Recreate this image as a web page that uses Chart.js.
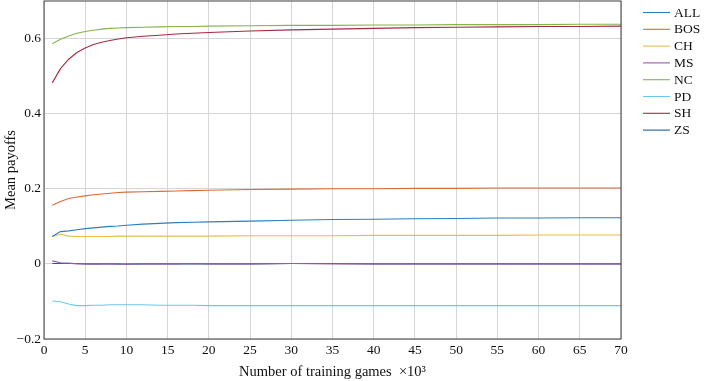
<!DOCTYPE html>
<html>
<head>
<meta charset="utf-8">
<script src="https://cdn.jsdelivr.net/npm/chart.js@4/dist/chart.umd.min.js"></script>
<style>
  html, body { margin: 0; padding: 0; background: #fff; }
  #wrap { width: 709px; height: 381px; }
</style>
</head>
<body>
<div id="wrap"><canvas id="payoffChart" width="709" height="381"></canvas></div>
<script>
// training games (x 10^3)
const games = [1, 2, 3, 4, 5, 6, 7, 8, 9, 10, 12, 14, 16, 18, 20, 25, 30, 35, 40, 45, 50, 55, 60, 65, 70];

const ALL = [0.073, 0.086, 0.088, 0.091, 0.094, 0.096, 0.098, 0.100, 0.101, 0.103, 0.106, 0.108, 0.110, 0.111, 0.112, 0.114, 0.116, 0.118, 0.119, 0.120, 0.121, 0.122, 0.122, 0.123, 0.123];
const BOS = [0.156, 0.166, 0.174, 0.178, 0.181, 0.184, 0.186, 0.188, 0.190, 0.191, 0.192, 0.193, 0.194, 0.195, 0.196, 0.198, 0.199, 0.200, 0.200, 0.201, 0.201, 0.202, 0.202, 0.202, 0.202];
const CH = [0.073, 0.079, 0.074, 0.073, 0.073, 0.073, 0.073, 0.073, 0.074, 0.074, 0.074, 0.074, 0.074, 0.074, 0.074, 0.075, 0.075, 0.075, 0.076, 0.076, 0.076, 0.076, 0.077, 0.077, 0.077];
const MS = [0.008, 0.003, 0.002, 0.000, 0.000, -0.001, 0.000, 0.000, -0.001, 0.000, 0.000, 0.000, 0.000, 0.001, 0.000, 0.000, 0.001, 0.000, 0.000, 0.000, 0.000, 0.000, 0.000, 0.000, 0.000];
const NC = [0.586, 0.598, 0.607, 0.614, 0.619, 0.622, 0.625, 0.627, 0.628, 0.629, 0.630, 0.631, 0.632, 0.632, 0.633, 0.634, 0.635, 0.635, 0.636, 0.636, 0.637, 0.637, 0.637, 0.638, 0.638];
const PD = [-0.099, -0.101, -0.107, -0.111, -0.111, -0.110, -0.110, -0.109, -0.109, -0.109, -0.109, -0.110, -0.110, -0.110, -0.111, -0.111, -0.111, -0.111, -0.111, -0.111, -0.111, -0.111, -0.111, -0.111, -0.111];
const SH = [0.482, 0.520, 0.545, 0.563, 0.575, 0.584, 0.590, 0.595, 0.599, 0.602, 0.606, 0.609, 0.612, 0.614, 0.616, 0.620, 0.623, 0.625, 0.627, 0.629, 0.630, 0.631, 0.632, 0.632, 0.633];
const ZS = [0.001, 0.001, 0.001, 0.001, 0.000, 0.000, 0.000, 0.000, 0.000, -0.001, 0.000, 0.000, 0.000, 0.000, 0.000, 0.000, 0.001, 0.001, 0.000, 0.000, 0.000, 0.000, 0.000, 0.000, 0.000];

const seriesNames = ["ALL", "BOS", "CH", "MS", "NC", "PD", "SH", "ZS"];
const seriesValues = [ALL, BOS, CH, MS, NC, PD, SH, ZS];
const seriesColors = ["#2a7fc0", "#dc6a3a", "#ebbd45", "#9a5aa8", "#86b44c", "#6cc6ee", "#a52a45", "#1f5f9c"];

const xTicks = [0, 5, 10, 15, 20, 25, 30, 35, 40, 45, 50, 55, 60, 65, 70];
const yTicks = [-0.2, 0, 0.2, 0.4, 0.6];

const serif = "'Liberation Serif', 'DejaVu Serif', serif";

// frame round the plot + legend drawn on the right
const framePlugin = {
  id: "frame",
  afterDraw(chart) {
    const { ctx, chartArea: a } = chart;
    ctx.save();
    ctx.strokeStyle = "#3c3c3c";
    ctx.lineWidth = 1;
    ctx.strokeRect(a.left, a.top, a.right - a.left, a.bottom - a.top);

    ctx.font = "13.5px " + serif;
    ctx.textBaseline = "middle";
    ctx.textAlign = "left";
    chart.data.datasets.forEach((ds, i) => {
      const y = 12.5 + i * 16.8;
      ctx.strokeStyle = ds.borderColor;
      ctx.lineWidth = 1.1;
      ctx.beginPath();
      ctx.moveTo(643, y);
      ctx.lineTo(670, y);
      ctx.stroke();
      ctx.fillStyle = "#111";
      ctx.fillText(ds.label, 674, y + 0.5);
    });
    ctx.restore();
  }
};

const ctx = document.getElementById("payoffChart").getContext("2d");
new Chart(ctx, {
  type: "line",
  data: {
    datasets: seriesNames.map((name, i) => ({
      label: name,
      data: games.map((g, j) => ({ x: g, y: seriesValues[i][j] })),
      borderColor: seriesColors[i],
      borderWidth: 1.1,
      pointRadius: 0,
      tension: 0,
      fill: false
    }))
  },
  options: {
    responsive: false,
    animation: false,
    layout: { padding: { top: 1, right: 88, bottom: 0, left: 0 } },
    plugins: {
      legend: { display: false },
      tooltip: { enabled: false }
    },
    scales: {
      x: {
        type: "linear",
        min: 0,
        max: 70,
        afterBuildTicks: (s) => { s.ticks = xTicks.map(v => ({ value: v })); },
        afterFit: (s) => { s.height = 42; s.paddingLeft = 0; s.paddingRight = 0; },
        grid: { color: "#d6d6d6", lineWidth: 1, drawTicks: false },
        border: { display: false },
        ticks: {
          padding: 3,
          maxRotation: 0,
          autoSkip: false,
          color: "#111",
          font: { family: serif, size: 13.5 }
        },
        title: {
          display: true,
          text: "Number of training games  \u00d710\u00b3",
          color: "#111",
          padding: { top: 0, bottom: 0 },
          font: { family: serif, size: 14.5 }
        }
      },
      y: {
        min: -0.2,
        max: 0.7,
        afterBuildTicks: (s) => { s.ticks = yTicks.map(v => ({ value: v })); },
        afterFit: (s) => { s.width = 44; s.paddingTop = 0; s.paddingBottom = 0; },
        grid: { color: "#d6d6d6", lineWidth: 1, drawTicks: false },
        border: { display: false },
        ticks: {
          padding: 3,
          color: "#111",
          font: { family: serif, size: 13.5 },
          callback: (v) => {
            const r = Math.round(v * 10) / 10;
            if (r === 0) return "0";
            return (r < 0 ? "\u2212" : "") + Math.abs(r).toFixed(1);
          }
        },
        title: {
          display: true,
          text: "Mean payoffs",
          color: "#111",
          padding: { top: 2, bottom: 2 },
          font: { family: serif, size: 14.5 }
        }
      }
    }
  },
  plugins: [framePlugin]
});
</script>
</body>
</html>
